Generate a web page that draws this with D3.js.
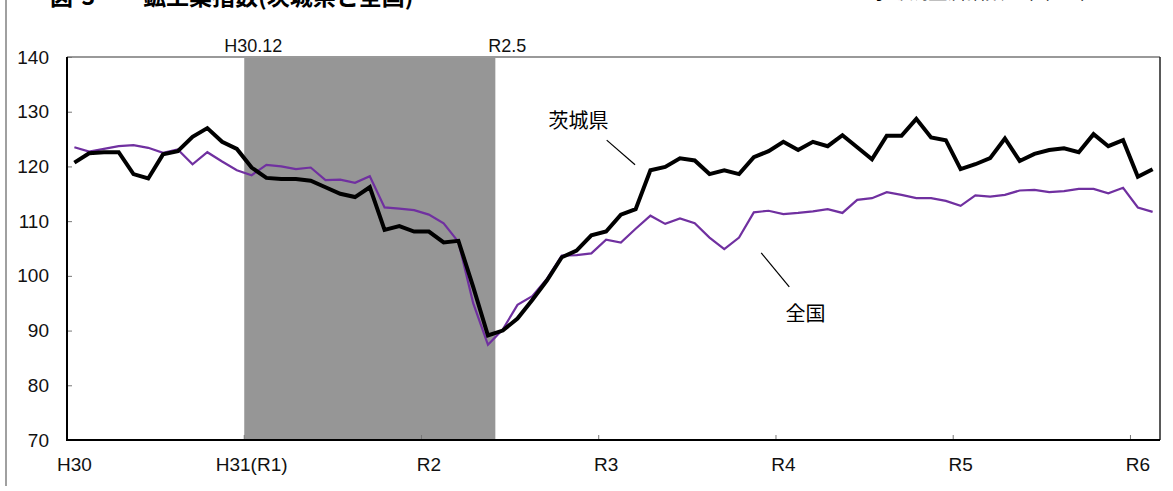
<!DOCTYPE html>
<html><head><meta charset="utf-8">
<script src="https://cdn.jsdelivr.net/npm/d3@7"></script>
<style>
html,body{margin:0;padding:0;background:#fff;}
svg{display:block;}
text{font-family:"Liberation Sans",Arial,"Noto Sans CJK JP",sans-serif;}
.jp{font-family:"Noto Sans CJK JP","Liberation Sans",sans-serif;}
</style>
</head><body>
<svg id="c" width="1173" height="491"></svg>
<script>
// ---- data ----
const startYear = 2018, monthCount = 74; // H30.1 .. R6.2
const ibaraki = [120.7,122.4,122.6,122.6,118.6,117.8,122.2,122.8,125.4,127.0,124.5,123.2,
  119.8,117.9,117.7,117.7,117.4,116.2,115.0,114.4,116.2,108.4,109.1,108.1,
  108.1,106.1,106.4,98.0,89.1,90.0,92.2,95.6,99.2,103.4,104.6,107.4,
  108.1,111.2,112.2,119.3,119.9,121.5,121.1,118.6,119.3,118.6,121.7,122.8,
  124.5,123.0,124.5,123.7,125.7,123.5,121.3,125.6,125.6,128.7,125.3,124.8,
  119.5,120.4,121.5,125.1,121.0,122.3,123.0,123.3,122.6,125.9,123.7,124.8,
  118.1,119.5];
const national = [123.5,122.7,123.2,123.7,123.9,123.4,122.5,123.1,120.4,122.6,120.9,119.3,
  118.4,120.3,120.0,119.5,119.8,117.5,117.6,117.0,118.2,112.5,112.3,112.0,
  111.2,109.6,106.2,95.0,87.4,90.2,94.7,96.3,99.5,103.7,103.8,104.1,
  106.6,106.1,108.6,111.0,109.5,110.5,109.6,107.0,104.9,107.0,111.6,111.9,
  111.3,111.5,111.8,112.2,111.5,113.9,114.2,115.3,114.8,114.2,114.2,113.7,
  112.8,114.7,114.5,114.8,115.6,115.7,115.3,115.5,115.9,115.9,115.1,116.1,
  112.5,111.7];
const yearLabels = ["H30","H31(R1)","R2","R3","R4","R5","R6"];
const yTicks = [70,80,90,100,110,120,130,140];
const shade = {from:"2019-01", to:"2020-05", fromLabel:"H30.12", toLabel:"R2.5"};
const seriesNames = ["茨城県","全国"];

const months = [];
for (let i=0;i<monthCount;i++){
  const y = startYear + Math.floor(i/12), m = i%12+1;
  months.push(y+"-"+String(m).padStart(2,"0"));
}

// ---- layout ----
const L=67, R=1160, T=57, B=440;
const svg = d3.select("#c");
const x = d3.scaleBand().domain(months).range([L,R]).padding(0);
const bw = x.bandwidth();
const y = d3.scaleLinear().domain([70,140]).range([B,T]);
const xi = i => L + (i+0.5)*bw;

// outer frame line
svg.append("line").attr("x1",6).attr("x2",6).attr("y1",0).attr("y2",486)
  .attr("stroke","#808080").attr("stroke-width",1.5);

// title (clipped at top)
svg.append("text").attr("class","jp").attr("x",50).attr("y",5)
  .attr("font-size",23).attr("font-weight","bold").text("図-3-");
svg.append("text").attr("class","jp").attr("x",143).attr("y",5)
  .attr("font-size",23).attr("font-weight","bold").text("鉱工業指数(茨城県と全国)");
svg.append("text").attr("class","jp").attr("x",1152).attr("y",-1)
  .attr("text-anchor","end").attr("font-size",19).text("（季節調整済指数、令和2年=100）");

// shading
const sx0 = x(shade.from), sx1 = x(shade.to)+bw;
svg.append("rect").attr("x",sx0).attr("y",T).attr("width",sx1-sx0).attr("height",B-T)
  .attr("fill","#969696");
svg.append("text").attr("x",sx0+9).attr("y",52).attr("text-anchor","middle")
  .attr("font-size",18).attr("fill","#111").text(shade.fromLabel);
svg.append("text").attr("x",sx1-7).attr("y",52).attr("text-anchor","start")
  .attr("font-size",18).attr("fill","#111").text(shade.toLabel);

// plot frame top/right
svg.append("line").attr("x1",L).attr("x2",R).attr("y1",T).attr("y2",T)
  .attr("stroke","#999").attr("stroke-width",2);
svg.append("line").attr("x1",R).attr("x2",R).attr("y1",T).attr("y2",B)
  .attr("stroke","#222").attr("stroke-width",1.5);

// y axis
const ya = svg.append("g").attr("transform",`translate(${L},0)`)
  .call(d3.axisLeft(y).tickValues(yTicks).tickSize(-5).tickSizeOuter(0).tickPadding(18));
ya.select(".domain").remove();
ya.selectAll(".tick line").attr("stroke","#777");
ya.selectAll(".tick text").attr("font-size",19).attr("fill","#111")
  .attr("font-family",'"Liberation Sans",Arial,sans-serif');

// x axis ticks (band boundaries each January) and labels
const jans = months.filter(m=>m.endsWith("-01"));
svg.append("g").selectAll("line").data(jans.slice(1)).join("line")
  .attr("x1",d=>x(d)).attr("x2",d=>x(d)).attr("y1",B).attr("y2",B-5)
  .attr("stroke","#777");
const xa = svg.append("g").attr("transform",`translate(0,${B})`)
  .call(d3.axisBottom(x).tickValues(jans).tickSize(0).tickPadding(18)
    .tickFormat((d,i)=>yearLabels[i]));
xa.select(".domain").remove();
xa.selectAll(".tick text").attr("font-size",19).attr("fill","#111")
  .attr("font-family",'"Liberation Sans",Arial,"Noto Sans CJK JP",sans-serif');

// axis lines
svg.append("line").attr("x1",L).attr("x2",L).attr("y1",T).attr("y2",B+1)
  .attr("stroke","#000").attr("stroke-width",2);
svg.append("line").attr("x1",L).attr("x2",R).attr("y1",B).attr("y2",B)
  .attr("stroke","#000").attr("stroke-width",2);

// lines
const line = d3.line().x((d,i)=>xi(i)).y(d=>y(d));
svg.append("path").datum(national).attr("d",line).attr("fill","none")
  .attr("stroke","#7030A0").attr("stroke-width",2.2).attr("stroke-linejoin","miter");
svg.append("path").datum(ibaraki).attr("d",line).attr("fill","none")
  .attr("stroke","#000").attr("stroke-width",4).attr("stroke-linejoin","miter");

// annotations (in data units: month index, value)
const annText = [{t:seriesNames[0], i:32.6, v:127.0},{t:seriesNames[1], i:48.65, v:91.8}];
const annLines = [[[36.04,124.8],[37.96,120.3]],[[46.5,104.2],[48.4,98.0]]];
svg.append("g").selectAll("text").data(annText).join("text").attr("class","jp")
  .attr("x",d=>L+d.i*bw).attr("y",d=>y(d.v)).attr("font-size",20).attr("fill","#000")
  .text(d=>d.t);
svg.append("g").selectAll("line").data(annLines).join("line")
  .attr("x1",d=>xi(d[0][0])).attr("y1",d=>y(d[0][1]))
  .attr("x2",d=>xi(d[1][0])).attr("y2",d=>y(d[1][1]))
  .attr("stroke","#000").attr("stroke-width",1.2);
</script>
</body></html>
